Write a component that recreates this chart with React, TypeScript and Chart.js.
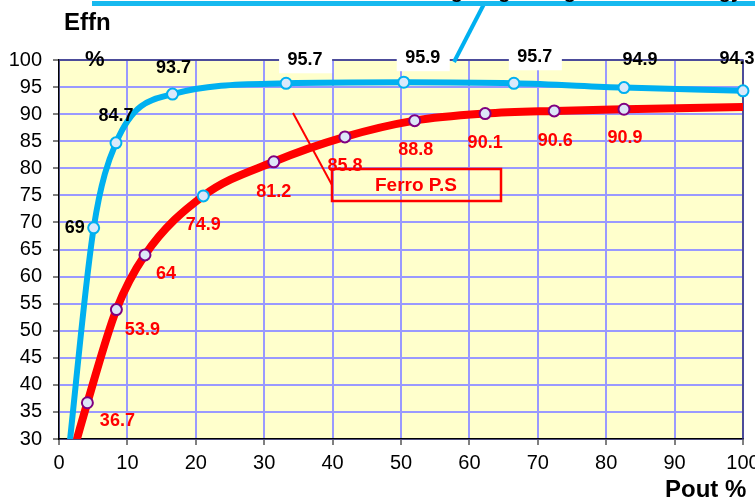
import React, { useEffect, useRef } from "react";
import { Chart, registerables } from "chart.js";
Chart.register(...registerables);

// ---- data ----
const xTickValues = [0, 10, 20, 30, 40, 50, 60, 70, 80, 90, 100];
const yTickValues = [30, 35, 40, 45, 50, 55, 60, 65, 70, 75, 80, 85, 90, 95, 100];

// efficiency curve (cyan) – first point only continues the line below the axis
const cyanX = [1.2, 5.07, 8.33, 16.6, 33.2, 50.4, 66.5, 82.6, 100];
const cyanY = [25, 69, 84.7, 93.7, 95.7, 95.9, 95.7, 94.9, 94.3];
const cyanShown = [false, true, true, true, true, true, true, true, true];

// Ferro P.S curve (red)
const redX = [1.5, 4.15, 8.39, 12.57, 21.1, 31.4, 41.8, 52.0, 62.3, 72.4, 82.6, 100];
const redY = [25, 36.7, 53.9, 64, 74.9, 81.2, 85.8, 88.8, 90.1, 90.6, 90.9, 91.3];
const redShown = [false, true, true, true, true, true, true, true, true, true, true, false];

// ---- styling (label placement relative to the point, in px) ----
const cyanLabelOffset: ([number, number] | null)[] = [
  null, [-19, 0], [0, -27], [1, -26], [19, -23], [19, -24], [21, -26], [16, -28], [-6, -32],
];
const cyanLabelBox = [false, false, false, false, true, true, true, false, false];
const redLabelOffset: ([number, number] | null)[] = [
  null, [30, 18], [26, 20], [21, 19], [0, 29], [0, 30], [0, 29], [1, 29], [0, 29], [1, 30], [1, 29], null,
];

const CYAN = "#00b0f0";
const RED = "#ff0000";
const FONT = "'Liberation Sans', Arial, sans-serif";

const decorPlugin = {
  id: "decor",
  beforeDraw(chart: any) {
    const { ctx, chartArea: a } = chart;
    ctx.save();
    ctx.fillStyle = "#ffffff";
    ctx.fillRect(0, 0, chart.width, chart.height);
    ctx.fillStyle = "#ffffcc";
    ctx.fillRect(a.left, a.top, a.right - a.left, a.bottom - a.top);
    ctx.restore();
  },
  beforeDatasetsDraw(chart: any) {
    const { ctx, chartArea: a } = chart;
    ctx.save();
    ctx.strokeStyle = "#33337a";
    ctx.lineWidth = 1.5;
    ctx.beginPath();
    ctx.moveTo(a.left, a.top);
    ctx.lineTo(a.right, a.top);
    ctx.lineTo(a.right, a.bottom);
    ctx.stroke();
    ctx.restore();
  },
  afterDatasetsDraw(chart: any) {
    const { ctx } = chart;
    ctx.save();
    ctx.font = `bold 18px ${FONT}`;
    ctx.textAlign = "center";
    ctx.textBaseline = "middle";
    // cyan labels
    const m0 = chart.getDatasetMeta(0);
    m0.data.forEach((el: any, i: number) => {
      const off = cyanLabelOffset[i];
      if (!off) return;
      const tx = el.x + off[0];
      const ty = el.y + off[1];
      if (cyanLabelBox[i]) {
        ctx.fillStyle = "#ffffff";
        ctx.fillRect(tx - 26, ty - 9, 53, 22);
      }
      ctx.fillStyle = "#000000";
      ctx.fillText(String(cyanY[i]), tx, ty);
    });
    // red labels
    const m1 = chart.getDatasetMeta(1);
    ctx.fillStyle = RED;
    m1.data.forEach((el: any, i: number) => {
      const off = redLabelOffset[i];
      if (!off) return;
      ctx.fillText(String(redY[i]), el.x + off[0], el.y + off[1]);
    });

    // annotation: Ferro P.S
    ctx.strokeStyle = RED;
    ctx.lineWidth = 2;
    ctx.beginPath();
    ctx.moveTo(293, 113);
    ctx.lineTo(332, 185);
    ctx.stroke();
    ctx.lineWidth = 2.5;
    ctx.strokeRect(332, 169, 169, 32);
    ctx.font = `bold 19px ${FONT}`;
    ctx.fillStyle = RED;
    ctx.fillText("Ferro P.S", 416, 186);

    // top callout (cut off)
    ctx.strokeStyle = CYAN;
    ctx.lineWidth = 4;
    ctx.beginPath();
    ctx.moveTo(454, 62);
    ctx.lineTo(484, 4);
    ctx.stroke();
    ctx.fillStyle = "#17b9ef";
    ctx.fillRect(92, 1, 663, 5);
    ctx.fillStyle = "#000";
    ctx.font = `bold 20px ${FONT}`;
    ctx.textBaseline = "alphabetic";
    ctx.textAlign = "right";
    ctx.fillText("Switching", 463, -2);
    ctx.fillText("Regulating", 576, -2);
    ctx.fillText("Energy", 742, -2);

    // axis titles
    ctx.textAlign = "left";
    ctx.font = `bold 24px ${FONT}`;
    ctx.fillText("Effn", 64, 30);
    ctx.font = `bold 22px ${FONT}`;
    ctx.fillText("%", 85, 66);
    ctx.font = `bold 24px ${FONT}`;
    ctx.fillText("Pout %", 665, 497);
    ctx.restore();
  },
};

export default function App() {
  const ref = useRef<HTMLCanvasElement>(null);
  useEffect(() => {
    document.body.style.margin = "0";
    const canvas = ref.current!;
    const redBorder = redX.map((_, i) => (i === 4 ? CYAN : "#800080"));
    const chart = new Chart(canvas, {
      type: "scatter",
      data: {
        datasets: [
          {
            data: cyanX.map((x, i) => ({ x, y: cyanY[i] })),
            showLine: true,
            borderColor: CYAN,
            borderWidth: 6,
            cubicInterpolationMode: "monotone",
            pointRadius: cyanShown.map((s) => (s ? 5.5 : 0)),
            pointBackgroundColor: "#dbe9fb",
            pointBorderColor: CYAN,
            pointBorderWidth: 2,
            clip: { left: 0, bottom: 0, top: 12, right: 12 } as any,
          },
          {
            data: redX.map((x, i) => ({ x, y: redY[i] })),
            showLine: true,
            borderColor: RED,
            borderWidth: 8,
            cubicInterpolationMode: "monotone",
            pointRadius: redShown.map((s) => (s ? 5.5 : 0)),
            pointBackgroundColor: "#dde6f8",
            pointBorderColor: redBorder,
            pointBorderWidth: 2,
            clip: { left: 0, bottom: 0, top: 12, right: 12 } as any,
          },
        ],
      },
      options: {
        animation: false,
        responsive: false,
        devicePixelRatio: 1,
        layout: { padding: { top: 60, right: 12, left: 0, bottom: 0 } },
        plugins: { legend: { display: false }, tooltip: { enabled: false } },
        scales: {
          x: {
            type: "linear",
            min: 0,
            max: 100,
            afterBuildTicks: (s: any) => {
              s.ticks = xTickValues.map((v) => ({ value: v }));
            },
            ticks: { font: { family: FONT, size: 20 }, color: "#000", padding: 6, maxRotation: 0 },
            grid: { color: "#9999ff", lineWidth: 2, tickLength: 6, tickColor: "#000", tickWidth: 1 },
            border: { color: "#000", width: 1.5 },
            afterFit: (s: any) => {
              s.height = 60;
              s.paddingLeft = 0;
              s.paddingRight = 0;
            },
          },
          y: {
            type: "linear",
            min: 30,
            max: 100,
            afterBuildTicks: (s: any) => {
              s.ticks = yTickValues.map((v) => ({ value: v }));
            },
            ticks: { font: { family: FONT, size: 20 }, color: "#000", padding: 11 },
            grid: { color: "#9999ff", lineWidth: 2, tickLength: 6, tickColor: "#000", tickWidth: 1 },
            border: { color: "#000", width: 1.5 },
            afterFit: (s: any) => {
              s.width = 59;
              s.paddingTop = 0;
              s.paddingBottom = 0;
            },
          },
        },
      } as any,
      plugins: [decorPlugin],
    });
    return () => chart.destroy();
  }, []);
  return (
    <div style={{ position: "absolute", left: 0, top: 0, width: 755, height: 499 }}>
      <canvas ref={ref} width={755} height={499} style={{ width: 755, height: 499 }} />
    </div>
  );
}
